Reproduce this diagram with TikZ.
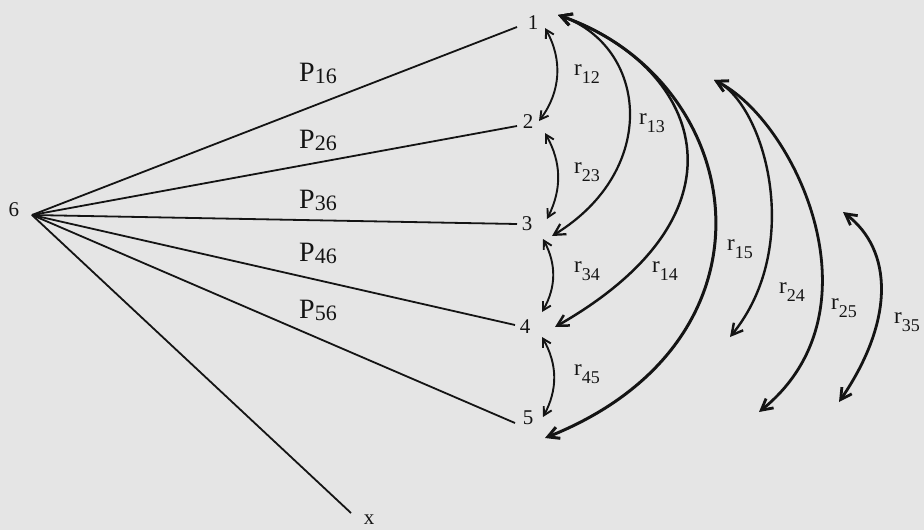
\documentclass[tikz,border=0pt]{standalone}
\usepackage{fontspec}
\setmainfont{Liberation Serif}
\usetikzlibrary{arrows.meta}

\definecolor{paper}{RGB}{229,229,229}
\definecolor{ink}{RGB}{20,20,20}

\newcommand{\pw}[1]{{\fontsize{28}{30}\selectfont P\raisebox{-2pt}{\fontsize{22}{24}\selectfont #1}}}
\newcommand{\rw}[1]{{\fontsize{23}{25}\selectfont r\raisebox{-8pt}{\fontsize{18}{20}\selectfont #1}}}

\begin{document}
\begin{tikzpicture}[x=1pt, y=-1pt,
  num/.style={inner sep=0pt, text=ink, font=\fontsize{21}{23}\selectfont},
  lbl/.style={inner sep=0pt, text=ink},
  edge/.style={draw=ink, line width=1.8pt},
  dbl/.style={draw=ink, line width=1.9pt, <->, >={Straight Barb[length=8pt,width=9pt]}},
  arc/.style={draw=ink, <->, >={Straight Barb[length=11pt,width=12pt]}}]
\fill[paper] (0,0) rectangle (924,530);
\useasboundingbox (0,0) rectangle (924,530);
% the six points and x
\node[num] (n1) at (533,23) {1};
\node[num] (n2) at (528,122) {2};
\node[num] (n3) at (527,224) {3};
\node[num] (n4) at (525,327) {4};
\node[num] (n5) at (528,418) {5};
\node[num] (n6) at (14,210) {6};
\node[num] (nx) at (369,520) {x};
\coordinate (o6) at ([shift={(18,5)}]n6.center);
% path coefficients
\foreach \n/\dx/\dy in {n1/-16/4, n2/-11/4, n3/-10/0, n4/-10/-2, n5/-13/5, nx/-18/-7}
  \draw[edge] (o6) -- ([shift={(\dx,\dy)}]\n.center);
\node[lbl] (p16) at (318,73) {\pw{16}};
\node[lbl] (p26) at (318,140) {\pw{26}};
\node[lbl] (p36) at (318,200) {\pw{36}};
\node[lbl] (p46) at (318,253) {\pw{46}};
\node[lbl] (p56) at (318,310) {\pw{56}};
% neighbouring correlations
\draw[dbl] ([shift={(12,5)}]n1.center) to[bend left=33] ([shift={(11,-1)}]n2.center);
\draw[dbl] ([shift={(17,11)}]n2.center) to[bend left=28] ([shift={(20,-5)}]n3.center);
\draw[dbl] ([shift={(16,15)}]n3.center) to[bend left=29] ([shift={(17,-15)}]n4.center);
\draw[dbl] ([shift={(17,10)}]n4.center) to[bend left=29] ([shift={(15,-1)}]n5.center);
% long correlations
\coordinate (t1) at ([shift={(25,-8)}]n1.center);
\draw[arc, line width=2.2pt] (t1) .. controls +(90,31.5) and +(108,-66) .. ([shift={(25,12)}]n3.center);
\draw[arc, line width=2.5pt] (t1) .. controls +(140,49) and +(205,-117) .. ([shift={(30,0)}]n4.center);
\draw[arc, line width=3pt] (t1) .. controls +(190,66.5) and +(245,-98) .. ([shift={(17,20)}]n5.center);
\coordinate (t2) at (714,80);
\coordinate (e24) at (730,337);
\coordinate (e25) at (759,412);
\draw[arc, line width=2.4pt] (t2) .. controls +(50,25) and +(75,-92) .. (e24);
\draw[arc, line width=2.8pt] (t2) .. controls +(80,40) and +(126,-102) .. (e25);
\coordinate (a35) at (843,212);
\coordinate (b35) at (839,402);
\draw[arc, line width=2.8pt] (a35) .. controls +(50,38) and +(56,-82) .. (b35);
\node[lbl] (r12) at (587,74) {\rw{12}};
\node[lbl] (r13) at (652,123) {\rw{13}};
\node[lbl] (r23) at (587,172) {\rw{23}};
\node[lbl] (r34) at (587,271) {\rw{34}};
\node[lbl] (r14) at (665,271) {\rw{14}};
\node[lbl] (r45) at (587,374) {\rw{45}};
\node[lbl] (r15) at (740,249) {\rw{15}};
\node[lbl] (r24) at (792,292) {\rw{24}};
\node[lbl] (r25) at (844,308) {\rw{25}};
\node[lbl] (r35) at (907,322) {\rw{35}};
\end{tikzpicture}
\end{document}
